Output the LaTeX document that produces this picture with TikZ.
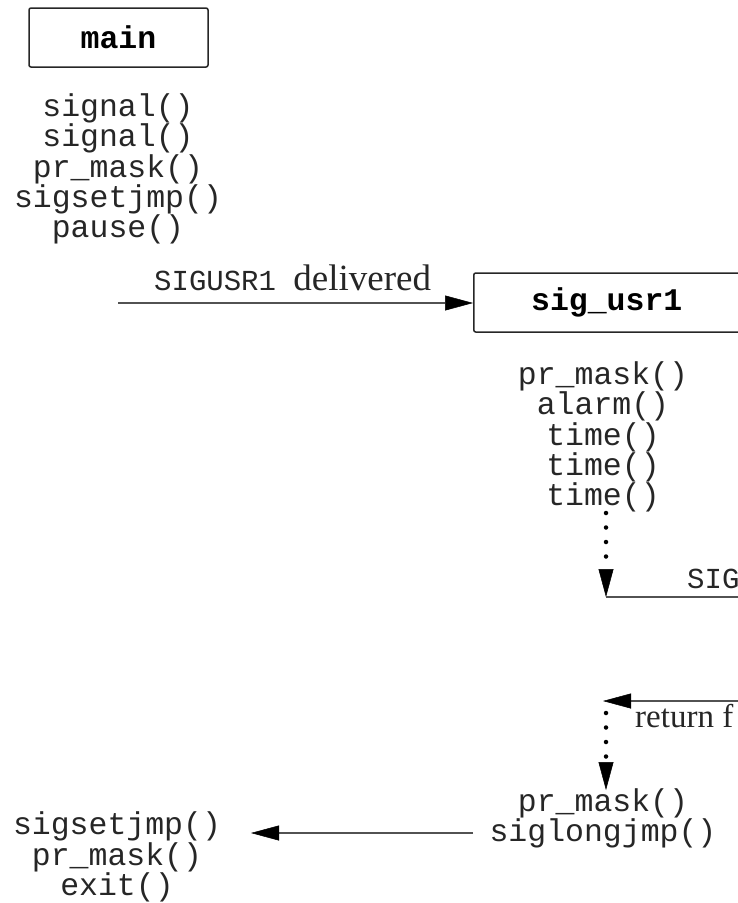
\documentclass[tikz,border=0pt]{standalone}
\usepackage{fontspec}
\setmainfont{Liberation Serif}
\setmonofont{Liberation Mono}
\usetikzlibrary{arrows.meta}
\definecolor{ink}{gray}{0.15}
\tikzset{
  fn/.style={font=\fontsize{31.5}{30.2}\selectfont\ttfamily, text=ink, align=center, inner sep=0pt},
  fnb/.style={font=\fontsize{31.5}{28.5}\selectfont\ttfamily, text=ink, align=center, inner sep=0pt},
  fnbox/.style={draw=ink, line width=1.5pt, rounded corners=2pt, minimum height=59pt, inner sep=0pt,
    font=\fontsize{31.5}{31.5}\selectfont\ttfamily\bfseries, text=black},
  lbl/.style={font=\fontsize{33}{33}\selectfont, text=ink, inner sep=0pt},
  lblmono/.style={font=\fontsize{29}{29}\selectfont\ttfamily, text=ink, inner sep=0pt},
  conn/.style={draw=ink!80, line width=1.6pt},
  tip/.style={-{Triangle[length=28pt,width=15pt,line width=0.5pt,fill=black,color=black]}},
  arr/.style={conn, tip},
  dotarr/.style={draw=black, line width=4.5pt, line cap=round, dash pattern=on 0pt off 14.5pt, tip},
}
\begin{document}
\begin{tikzpicture}[x=1pt,y=-1pt]
\useasboundingbox (0,0) rectangle (738,903);
\clip (0,0) rectangle (738,903);

% main
\node[fnbox, minimum width=179pt] (main) at (118.5,37.5) {main};
\node[fn] (maincalls) at (118,169) {signal()\\signal()\\pr\_mask()\\sigsetjmp()\\pause()};

% SIGUSR1 delivered
\coordinate (s0) at (118,303);
\node[fnbox, minimum width=276pt, anchor=west] (usr) at (473,302.5) {\hspace*{-10pt}sig\_usr1};
\draw[arr] (s0) -- (usr.west |- s0);
\node[anchor=base west, inner sep=0pt] (deliv) at (154,290)
  {\fontsize{29}{29}\selectfont\ttfamily\color{ink}SIGUSR1\ \fontsize{37}{37}\rmfamily delivered};

\node[fn] (usrcalls) at (603,437) {pr\_mask()\\alarm()\\time()\\time()\\time()};

% to SIGALRM
\coordinate (d1s) at (606,513);
\coordinate (c1) at (606,597);
\coordinate (c2) at (760,597);
\draw[dotarr] (d1s) -- (c1);
\draw[conn] (c1) -- (c2);
\node[lblmono, anchor=base west] (sig) at (687,588) {SIG};

% return from
\coordinate (c3) at (760,701);
\coordinate (c4) at (603,701);
\draw[arr] (c3) -- (c4);
\node[lbl, anchor=base west] (ret) at (635,727) {return f};
\coordinate (d2s) at (606,713);
\coordinate (d2e) at (606,790);
\draw[dotarr] (d2s) -- (d2e);

\node[fn] (retcalls) at (603,818) {pr\_mask()\\siglongjmp()};

% back to main
\coordinate (b0) at (473,833);
\coordinate (b1) at (251,833);
\draw[arr] (b0) -- (b1);
\node[fnb] (endcalls) at (117,857) {sigsetjmp()\\pr\_mask()\\exit()};
\end{tikzpicture}
\end{document}
